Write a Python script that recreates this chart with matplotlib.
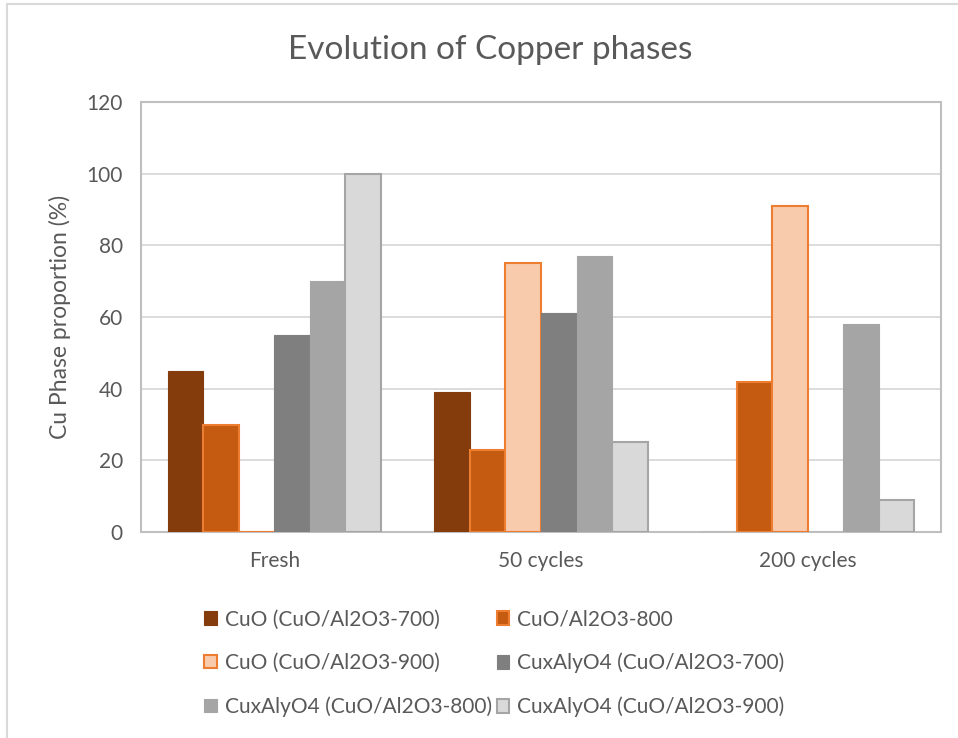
import numpy as np
import matplotlib.pyplot as plt
from matplotlib.patches import Rectangle

plt.rcParams['font.family'] = ['Lato', 'DejaVu Sans']

groups = ["Fresh", "50 cycles", "200 cycles"]
labels = ["CuO (CuO/Al2O3-700)", "CuO/Al2O3-800", "CuO (CuO/Al2O3-900)",
          "CuxAlyO4 (CuO/Al2O3-700)", "CuxAlyO4 (CuO/Al2O3-800)", "CuxAlyO4 (CuO/Al2O3-900)"]
cuo_700 = [45, 39, 0]
cuo_800 = [30, 23, 42]
cuo_900 = [0, 75, 91]
cuxalyo4_700 = [55, 61, 0]
cuxalyo4_800 = [70, 77, 58]
cuxalyo4_900 = [100, 25, 9]

series = [cuo_700, cuo_800, cuo_900, cuxalyo4_700, cuxalyo4_800, cuxalyo4_900]
faces = ["#843C0C", "#C55A11", "#F8CBAD", "#7F7F7F", "#A5A5A5", "#D9D9D9"]
edges = ["#843C0C", "#ED7D31", "#ED7D31", "#7F7F7F", "#A5A5A5", "#A5A5A5"]
lws = [0.8, 1.5, 1.5, 0.8, 0.8, 1.5]

fig = plt.figure(figsize=(9.58, 7.38), dpi=100)
ax = fig.add_axes([141 / 958, 1 - 532 / 738, 800 / 958, 430 / 738])

# outer chart border
fig.patches.append(Rectangle((7 / 958, -0.01), 1.0, 1 - 4 / 738 + 0.01,
                             transform=fig.transFigure, fill=False,
                             edgecolor="#D9D9D9", lw=1.5))

x = np.arange(len(groups))
w = 0.8 / 6
bars = []
for i, vals in enumerate(series):
    b = ax.bar(x + (i - 2.5) * w, vals, w, color=faces[i], edgecolor=edges[i],
               linewidth=lws[i], label=labels[i], zorder=3)
    bars.append(b)

ax.set_xlim(-0.5, 2.5)
ax.set_ylim(0, 120)
ax.set_yticks(np.arange(0, 121, 20))
ax.set_xticks(x)
ax.set_xticklabels(groups)
ax.grid(axis="y", color="#D9D9D9", lw=1.3, zorder=0)
for s in ax.spines.values():
    s.set_color("#BFBFBF")
    s.set_linewidth(1.5)
ax.tick_params(length=0, colors="#595959", labelsize=15)
ax.tick_params(axis="y", pad=13)
ax.tick_params(axis="x", pad=14)
ax.set_ylabel("Cu Phase proportion (%)", color="#595959", fontsize=16.5)
ax.yaxis.set_label_coords(-0.088, 0.5)

fig.text(490 / 958, 1 - 50 / 738, "Evolution of Copper phases", ha="center", va="center",
         fontsize=24, color="#595959")

# legend fills row by row
order = [0, 2, 4, 1, 3, 5]
leg = fig.legend([bars[i] for i in order], [labels[i] for i in order],
                 ncol=2, loc="upper left", bbox_to_anchor=(194 / 958, 1 - 599 / 738),
                 frameon=False, fontsize=15, labelcolor="#595959",
                 handlelength=0.6, handleheight=0.6, handletextpad=0.4,
                 columnspacing=0.2, labelspacing=1.12, borderpad=0)

fig.savefig("out.png", dpi=100)
